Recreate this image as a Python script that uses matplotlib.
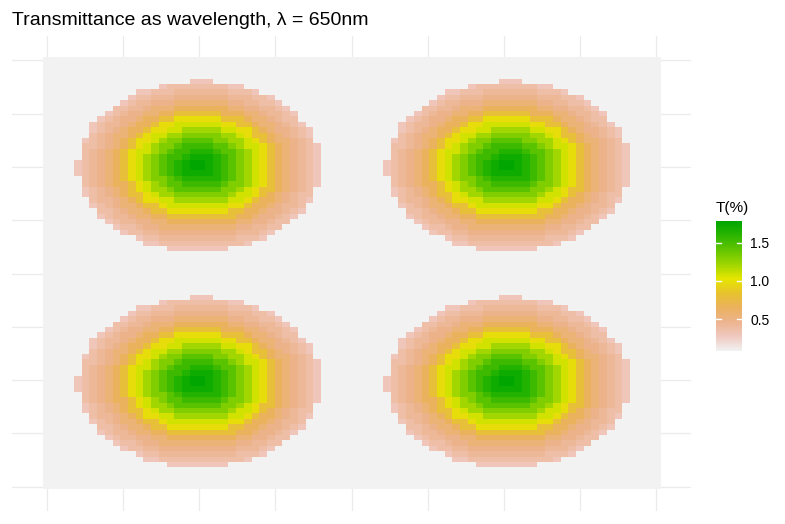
import numpy as np
import matplotlib
matplotlib.use("Agg")
import matplotlib.pyplot as plt
from matplotlib.colors import LinearSegmentedColormap

plt.rcParams['font.family'] = ['Liberation Sans', 'DejaVu Sans']

# grid of 80 x 80 cells, four circular spots
n_cells = 80
spot_centers = [(20.25, 20.25), (60.25, 20.25), (20.25, 60.25), (60.25, 60.25)]
spot_radius = 15.82
# transmittance read along a spot radius (distance in cells from the spot centre)
profile_radius = [0.25, 0.75, 1.75, 2.75, 3.75, 4.75, 5.75, 6.75, 7.75,
                  8.75, 9.75, 10.75, 11.75, 12.75, 13.75, 14.75, 15.75]
profile_T = [1.78, 1.77, 1.72, 1.63, 1.53, 1.43, 1.31, 1.21, 1.08,
             0.98, 0.80, 0.65, 0.55, 0.48, 0.43, 0.37, 0.30]
background_T = 0.087
T_min, T_max = 0.087, 1.78
legend_ticks = [0.5, 1.0, 1.5]

colours = ["#F2F2F2", "#F0C9C0", "#EDB48E", "#EBB25E", "#E8C32E",
           "#E6E600", "#A0D600", "#63C600", "#2DB600", "#00A600"]
cmap = LinearSegmentedColormap.from_list("terrain_rev", colours)

# build the field: each cell takes the value of the nearest listed radius
cc = np.arange(n_cells) + 0.5
X, Y = np.meshgrid(cc, cc)
field = np.full((n_cells, n_cells), background_T)
radii = np.array(profile_radius)
values = np.array(profile_T)
for cx, cy in spot_centers:
    d = np.hypot(X - cx, Y - cy)
    inside = d <= spot_radius
    idx = np.abs(d[..., None] - radii).argmin(axis=-1)
    field[inside] = values[idx[inside]]

W, H = 785, 524
fig = plt.figure(figsize=(W / 100, H / 100), dpi=100)
ax = fig.add_axes([12 / W, (H - 511) / H, 679 / W, 475 / H])
ax.imshow(field, cmap=cmap, vmin=T_min, vmax=T_max, extent=(0, n_cells, n_cells, 0),
          aspect='auto', interpolation='nearest', zorder=2)
ax.set_xlim(-4, n_cells + 4)
ax.set_ylim(n_cells + 4, -4)
for g in np.linspace(0.5, n_cells - 0.5, 9):
    ax.axvline(g, color="#EBEBEB", lw=0.9, zorder=0)
    ax.axhline(g, color="#EBEBEB", lw=0.9, zorder=0)
for s in ax.spines.values():
    s.set_visible(False)
ax.set_xticks([])
ax.set_yticks([])

fig.text(12 / W, 1 - 25 / H, "Transmittance as wavelength, λ = 650nm",
         fontsize=14, ha='left', va='baseline')

# colour bar
cax = fig.add_axes([716 / W, (H - 351) / H, 26 / W, 130 / H])
grad = np.linspace(T_min, T_max, 300).reshape(-1, 1)
cax.imshow(grad, cmap=cmap, vmin=T_min, vmax=T_max, origin='lower',
           extent=(0, 1, T_min, T_max), aspect='auto')
cax.set_xlim(0, 1)
cax.set_ylim(T_min, T_max)
for t in legend_ticks:
    cax.plot([0, 0.2], [t, t], color="white", lw=1)
    cax.plot([0.8, 1], [t, t], color="white", lw=1)
for s in cax.spines.values():
    s.set_visible(False)
cax.set_xticks([])
cax.yaxis.tick_right()
cax.set_yticks(legend_ticks)
cax.set_yticklabels([f"{t:.1f}" for t in legend_ticks], fontsize=10)
cax.tick_params(axis='y', length=0, pad=6)
fig.text(716 / W, 1 - 212 / H, "T(%)", fontsize=11, ha='left', va='baseline')

fig.savefig("out.png", dpi=100)
